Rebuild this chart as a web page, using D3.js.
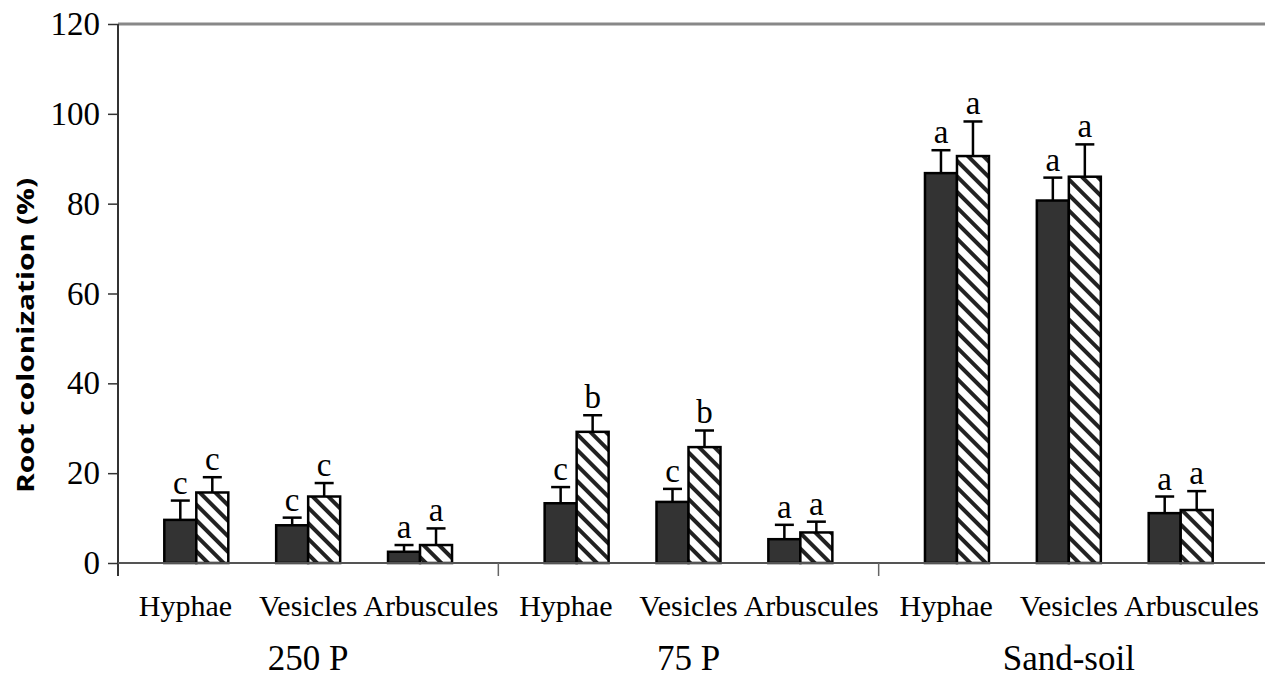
<!DOCTYPE html>
<html>
<head>
<meta charset="utf-8">
<script src="https://cdn.jsdelivr.net/npm/d3@7"></script>
<style>
  body { margin: 0; background: #fff; }
  svg { display: block; }
</style>
</head>
<body>
<div id="chart"></div>
<script>
var svgWidth = 1265;
var svgHeight = 683;

// data
var groups = ["250 P", "75 P", "Sand-soil"];
var types = ["Hyphae", "Vesicles", "Arbuscules"];
var series = ["solid", "hatched"];

var solidMeans = [9.6, 8.4, 2.5, 13.3, 13.6, 5.3, 86.8, 80.7, 11.1];
var solidErr = [4.3, 1.7, 1.5, 3.6, 2.9, 3.2, 5.1, 5.1, 3.7];
var solidLetters = ["c", "c", "a", "c", "c", "a", "a", "a", "a"];

var hatchMeans = [15.7, 14.8, 4.0, 29.2, 25.8, 6.8, 90.6, 86.0, 11.8];
var hatchErr = [3.4, 3.0, 3.7, 3.7, 3.7, 2.4, 7.7, 7.2, 4.2];
var hatchLetters = ["c", "c", "a", "b", "b", "a", "a", "a", "a"];

var yTicks = [0, 20, 40, 60, 80, 100, 120];
var yTitle = "Root colonization (%)";

var margin = { top: 24, left: 118 };
var plotRight = 1259;
var barW = 32;
var serif = "'Liberation Serif', 'Times New Roman', Times, serif";

var svg = d3.select("#chart")
  .append("svg")
  .attr("width", svgWidth)
  .attr("height", svgHeight);

// pattern for the hatched series
var defs = svg.append("defs");
var pat = defs.append("pattern")
  .attr("id", "hatch")
  .attr("patternUnits", "userSpaceOnUse")
  .attr("width", 11)
  .attr("height", 11)
  .attr("patternTransform", "rotate(-45)");
pat.append("rect").attr("width", 11).attr("height", 11).attr("fill", "#fff");
pat.append("rect").attr("width", 4).attr("height", 11).attr("fill", "#222");

// scales
var y = d3.scaleLinear().domain([0, 120]).range([563, margin.top]);
var xGroup = d3.scaleBand().domain(groups).range([margin.left, plotRight]);
var xType = d3.scalePoint().domain(types).range([0, xGroup.bandwidth()]).padding(0.7);
var xLabel = d3.scalePoint().domain(types).range([0, xGroup.bandwidth()]).padding(0.55);
var xSeries = d3.scaleBand().domain(series).range([-barW, barW]);

// flatten into records
var records = [];
groups.forEach(function(g, gi) {
  types.forEach(function(t, ti) {
    var i = gi * types.length + ti;
    records.push({ group: g, type: t, series: "solid", value: solidMeans[i], err: solidErr[i], letter: solidLetters[i] });
    records.push({ group: g, type: t, series: "hatched", value: hatchMeans[i], err: hatchErr[i], letter: hatchLetters[i] });
  });
});

function centerX(d) {
  return xGroup(d.group) + xType(d.type);
}
function barX(d) {
  return centerX(d) + xSeries(d.series);
}

// top frame line
svg.append("line")
  .attr("x1", margin.left).attr("x2", svgWidth)
  .attr("y1", y(120)).attr("y2", y(120))
  .attr("stroke", "#888").attr("stroke-width", 3);

// y axis
var leftAxis = d3.axisLeft(y).tickValues(yTicks).tickSize(10).tickPadding(8);
var yAxisG = svg.append("g")
  .attr("transform", `translate(${margin.left},0)`)
  .call(leftAxis);
yAxisG.select(".domain").remove();
yAxisG.selectAll(".tick line").attr("stroke", "#333").attr("stroke-width", 1.5);
yAxisG.selectAll(".tick text")
  .attr("font-family", serif)
  .attr("font-size", "33px")
  .attr("fill", "#000");

svg.append("line")
  .attr("x1", margin.left).attr("x2", margin.left)
  .attr("y1", y(120)).attr("y2", y(0) + 13)
  .attr("stroke", "#333").attr("stroke-width", 2);

// bars
svg.append("g").selectAll("rect")
  .data(records)
  .enter()
  .append("rect")
  .attr("x", barX)
  .attr("y", d => y(d.value))
  .attr("width", xSeries.bandwidth())
  .attr("height", d => y(0) - y(d.value))
  .attr("fill", d => d.series === "solid" ? "#333333" : "url(#hatch)")
  .attr("stroke", "#000")
  .attr("stroke-width", 2.5);

// x axis line over the bar bottoms
svg.append("line")
  .attr("x1", margin.left).attr("x2", svgWidth)
  .attr("y1", y(0)).attr("y2", y(0))
  .attr("stroke", "#555").attr("stroke-width", 2);

// group divider ticks
svg.append("g").selectAll("line")
  .data(groups.slice(1))
  .enter()
  .append("line")
  .attr("x1", d => xGroup(d)).attr("x2", d => xGroup(d))
  .attr("y1", y(0)).attr("y2", y(0) + 13)
  .attr("stroke", "#666").attr("stroke-width", 1.5);

// error bars
var errG = svg.append("g").attr("stroke", "#000").attr("stroke-width", 2.5);
errG.selectAll(".stem")
  .data(records)
  .enter()
  .append("line")
  .attr("x1", d => barX(d) + barW / 2).attr("x2", d => barX(d) + barW / 2)
  .attr("y1", d => y(d.value)).attr("y2", d => y(d.value + d.err));
errG.selectAll(".cap")
  .data(records)
  .enter()
  .append("line")
  .attr("x1", d => barX(d) + barW / 2 - 9.5).attr("x2", d => barX(d) + barW / 2 + 9.5)
  .attr("y1", d => y(d.value + d.err)).attr("y2", d => y(d.value + d.err));

// significance letters
svg.append("g").selectAll("text")
  .data(records)
  .enter()
  .append("text")
  .attr("x", d => barX(d) + barW / 2)
  .attr("y", d => y(d.value + d.err) - 7)
  .attr("text-anchor", "middle")
  .attr("font-family", serif)
  .attr("font-size", "33px")
  .attr("fill", "#000")
  .text(d => d.letter);

// category labels
var catData = [];
groups.forEach(function(g) {
  types.forEach(function(t) { catData.push({ group: g, type: t }); });
});
svg.append("g").selectAll("text")
  .data(catData)
  .enter()
  .append("text")
  .attr("x", d => xGroup(d.group) + xLabel(d.type))
  .attr("y", 616)
  .attr("text-anchor", "middle")
  .attr("font-family", serif)
  .attr("font-size", "30px")
  .attr("fill", "#000")
  .text(d => d.type);

// group labels
svg.append("g").selectAll("text")
  .data(groups)
  .enter()
  .append("text")
  .attr("x", d => xGroup(d) + xGroup.bandwidth() / 2)
  .attr("y", 670)
  .attr("text-anchor", "middle")
  .attr("font-family", serif)
  .attr("font-size", "35px")
  .attr("fill", "#000")
  .text(d => d);

// y axis title
svg.append("text")
  .attr("transform", `translate(34, ${(178 + 493) / 2}) rotate(-90)`)
  .attr("text-anchor", "middle")
  .attr("font-family", "'Open Sans', 'Liberation Sans', sans-serif")
  .attr("font-weight", "bold")
  .attr("font-size", "24px")
  .attr("textLength", 315)
  .attr("lengthAdjust", "spacingAndGlyphs")
  .attr("fill", "#000")
  .text(yTitle);
</script>
</body>
</html>
